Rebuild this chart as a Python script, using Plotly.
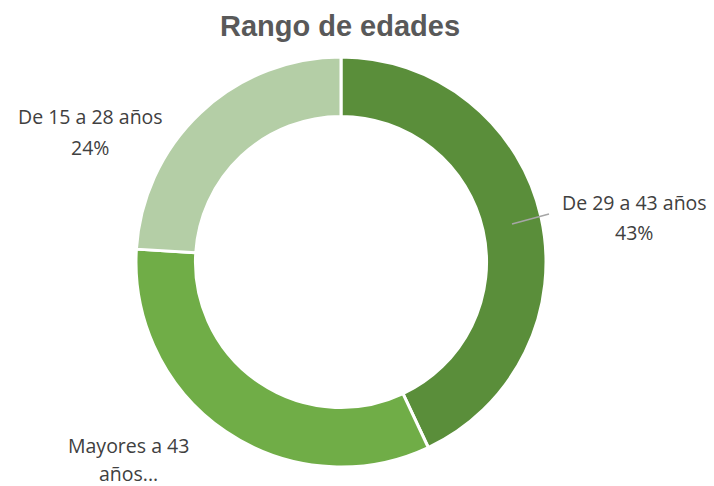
import plotly.graph_objects as go

labels = ["De 29 a 43 años", "Mayores a 43 años", "De 15 a 28 años"]
values = [43, 33, 24]
colors = ["#5A8E3A", "#70AD47", "#B4CEA6"]

W, H = 714, 486
cx, cy, r = 341, 262, 205

def px(x):
    return x / W

def py(y):
    return 1 - y / H

fig = go.Figure(go.Pie(
    labels=labels, values=values, hole=0.71, sort=False,
    direction="clockwise", rotation=0,
    marker=dict(colors=colors, line=dict(color="white", width=3)),
    textinfo="none", hoverinfo="label+percent", showlegend=False,
    domain=dict(x=[px(cx - r), px(cx + r)], y=[py(cy + r), py(cy - r)]),
))

font = dict(family="Open Sans, Liberation Sans, sans-serif", size=19.5, color="#404040")
total = sum(values)
pct = [f"{round(v * 100 / total)}%" for v in values]
label_lines = [
    (labels[0], pct[0]),
    ("Mayores a 43", "años..."),
    (labels[2], pct[2]),
]
label_pos = [(634, 203, 232), (128, 445, 473), (90, 117, 147)]
for (l1, l2), (x, y1, y2) in zip(label_lines, label_pos):
    for t, y in ((l1, y1), (l2, y2)):
        fig.add_annotation(x=px(x), y=py(y), xref="paper", yref="paper", text=t,
                           showarrow=False, font=font, align="center",
                           xanchor="center", yanchor="middle", borderpad=0)

fig.add_shape(type="line", xref="paper", yref="paper",
              x0=px(512), y0=py(224), x1=px(549), y1=py(214),
              line=dict(color="#A6A6A6", width=1.5))

fig.update_layout(
    width=W, height=H,
    margin=dict(l=0, r=0, t=0, b=0),
    paper_bgcolor="white", plot_bgcolor="white",
    title=dict(text="<b>Rango de edades</b>", x=px(340), xanchor="center",
               y=py(26), yanchor="middle",
               font=dict(family="Liberation Sans, Arial, sans-serif", size=29, color="#595959")),
)

fig.write_html("out.html", config={"displayModeBar": False},
               post_script="document.body.style.margin='0';document.body.style.overflow='hidden';")
